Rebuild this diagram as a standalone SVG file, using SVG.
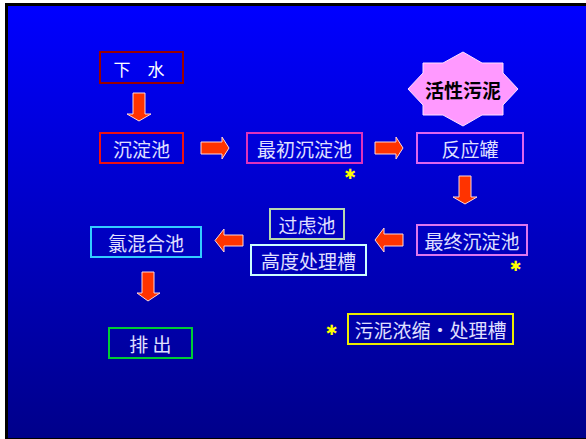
<svg xmlns="http://www.w3.org/2000/svg" width="586" height="439" viewBox="0 0 586 439">
<defs>
<linearGradient id="bg" x1="0" y1="0" x2="0" y2="1">
<stop offset="0" stop-color="#0000FF"/>
<stop offset="1" stop-color="#00008A"/>
</linearGradient>
<style>
.t{font-family:"Noto Sans CJK SC","Noto Sans",sans-serif;font-size:19px;fill:#E0E0FF;text-anchor:middle;dominant-baseline:central}
.b{fill:none;stroke-width:2}
.arr{fill:#FF3300;stroke:#FFD8D8;stroke-width:1}
.ast{font-family:"DejaVu Sans",sans-serif;font-size:14px;fill:#FFFF00;text-anchor:middle;dominant-baseline:central}
</style>
</defs>
<rect x="0" y="0" width="586" height="439" fill="#FFFFFF"/>
<rect x="5" y="3" width="581" height="436" fill="#000000"/>
<rect x="8" y="6" width="578" height="432" fill="url(#bg)"/>

<g id="n-xiashui">
<rect class="b" x="100" y="52" width="83" height="31" stroke="#990000"/>
<text class="t" x="139" y="68" style="fill:#FFFFFF;font-size:17px">下　水</text>
</g>
<g id="n-chendianchi">
<rect class="b" x="100" y="133" width="83" height="30" stroke="#EE1111"/>
<text class="t" x="141.5" y="148.5">沉淀池</text>
</g>
<g id="n-zuichu">
<rect class="b" x="247" y="133" width="115" height="30" stroke="#DD33BB"/>
<text class="t" x="304.5" y="148.5">最初沉淀池</text>
</g>
<g id="n-fanyingguan">
<rect class="b" x="417" y="133" width="106" height="30" stroke="#DD66EE"/>
<text class="t" x="470" y="148.5">反应罐</text>
</g>
<g id="n-huoxingwuni">
<polygon points="423,63 443,63 463,52 482,63 503,63 503,73 518,89 503,105 503,115 482,115 463,126 443,115 423,115 423,105 408,89 423,73" fill="#FF99FF" stroke="#FFE0FF" stroke-width="1"/>
<text class="t" x="463" y="89.5" style="fill:#000000;font-weight:bold;font-size:19px">活性污泥</text>
</g>
<g id="n-zuizhong">
<rect class="b" x="417" y="225" width="110" height="30" stroke="#DD77EE"/>
<text class="t" x="472" y="240.5">最终沉淀池</text>
</g>
<g id="n-guolvchi">
<rect class="b" x="270" y="209" width="74" height="30" stroke="#B8D8B0"/>
<text class="t" x="307" y="224.5">过虑池</text>
</g>
<g id="n-gaodu">
<rect class="b" x="251" y="245" width="115" height="30" stroke="#CCFFFF"/>
<text class="t" x="308.5" y="260.5">高度处理槽</text>
</g>
<g id="n-lvhunhe">
<rect class="b" x="91" y="227" width="110" height="30" stroke="#33CCFF"/>
<text class="t" x="146" y="242.5">氯混合池</text>
</g>
<g id="n-paichu">
<rect class="b" x="109" y="328" width="83" height="30" stroke="#00CC33"/>
<text class="t" x="150.5" y="343.5">排 出</text>
</g>
<g id="n-wuni">
<rect class="b" x="348" y="314" width="165" height="30" stroke="#EEEE00"/>
<text class="t" x="430.5" y="329.5">污泥浓缩・处理槽</text>
</g>
<g id="marks">
<text class="ast" x="350" y="174">✱</text>
<text class="ast" x="515.5" y="266">✱</text>
<text class="ast" x="331.5" y="330">✱</text>
</g>
<g id="connectors">
<polygon class="arr" points="133,93 145,93 145,114 151,114 139,121 127,114 133,114"/>
<polygon class="arr" points="201,142 222,142 222,137 229,148 222,159 222,154 201,154"/>
<polygon class="arr" points="375,142 396,142 396,137 403,148 396,159 396,154 375,154"/>
<polygon class="arr" points="459,176 471,176 471,197 477,197 465,204 453,197 459,197"/>
<polygon class="arr" points="403,234 384,234 384,228 375,240 384,252 384,246 403,246"/>
<polygon class="arr" points="243,235 224,235 224,229 215,240.5 224,252 224,246 243,246"/>
<polygon class="arr" points="142,272 154,272 154,293 160,293 148,301 137,293 142,293"/>
</g>
</svg>
